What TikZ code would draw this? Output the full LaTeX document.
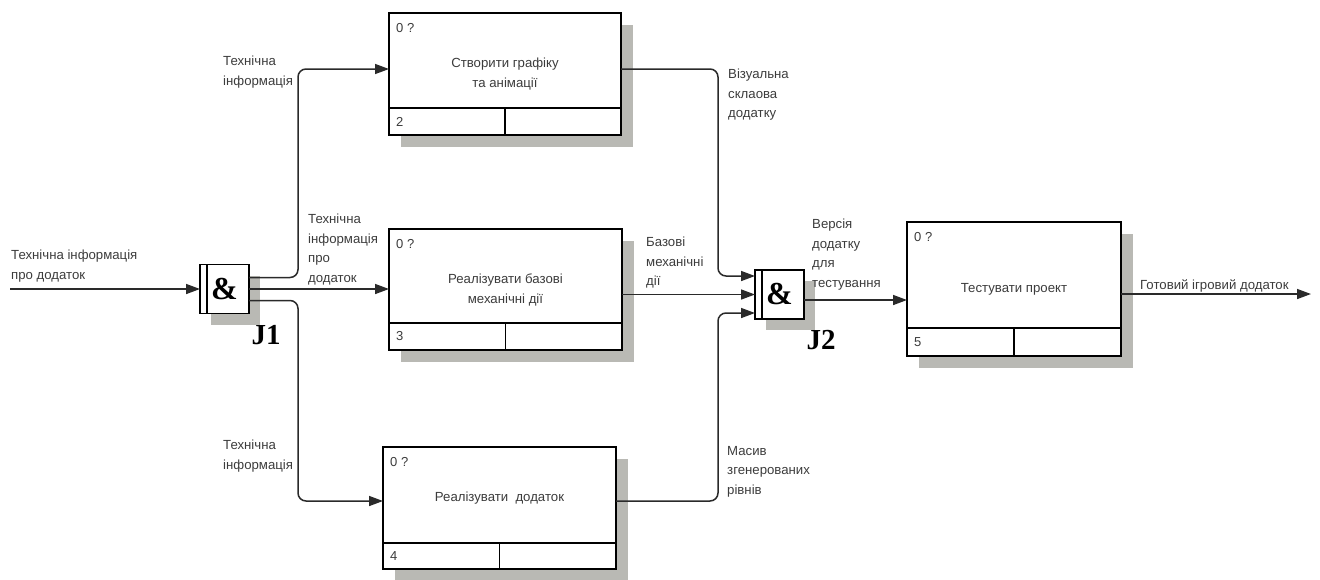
\documentclass[tikz,border=0pt]{standalone}
\usepackage{fontspec}
\setmainfont{Liberation Sans}
\newfontfamily\jfont{Liberation Serif}
\usetikzlibrary{arrows.meta,calc,shadows}

\definecolor{inkgray}{HTML}{3C3C3C}
\definecolor{shadegray}{HTML}{B9B9B4}
\definecolor{wire}{HTML}{2A2A2A}

\tikzset{
  txt/.style={font=\fontsize{13.2}{19.5}\selectfont, text=inkgray, inner sep=0pt, align=left},
  fnbox/.style={draw=black, line width=1.8pt, fill=white, outer sep=0pt, inner sep=0pt,
    align=center, text=inkgray, font=\fontsize{13.2}{20}\selectfont,
    drop shadow={shadow xshift=12pt, shadow yshift=-12pt, fill=shadegray, opacity=1}},
  jbox/.style={draw=black, line width=1.8pt, fill=white, outer sep=0pt, inner sep=0pt,
    minimum width=49pt, minimum height=49pt, font=\jfont\bfseries\fontsize{32}{32}\selectfont,
    drop shadow={shadow xshift=11pt, shadow yshift=-11pt, fill=shadegray, opacity=1}},
  jname/.style={font=\jfont\bfseries\fontsize{29}{29}\selectfont, inner sep=0pt},
  tag/.style={font=\fontsize{13}{15}\selectfont, text=inkgray, inner sep=0pt, anchor=west},
  boxline/.style={draw=black, line width=1.8pt},
  conn/.style={draw=wire, line width=1.5pt, rounded corners=8pt,
    -{Triangle[length=14pt,width=10pt]}},
}

\begin{document}
\begin{tikzpicture}[x=1pt,y=-1pt]
\useasboundingbox (0,0) rectangle (1320,579);

% activity boxes
\node[fnbox, minimum width=232pt, minimum height=122pt] (b2) at (505,74) {Створити графіку\\ та анімації};
\node[fnbox, minimum width=233pt, minimum height=121pt] (b3) at (505.5,289.5) {Реалізувати базові\\ механічні дії};
\node[fnbox, minimum width=233pt, minimum height=122pt] (b4) at (499.5,508) {\raisebox{7pt}[0pt][0pt]{Реалізувати\hspace{0.55em}додаток}};
\node[fnbox, minimum width=214pt, minimum height=134pt] (b5) at (1014,289) {Тестувати проект};

% bottom strips of the boxes
\foreach \b/\h/\n in {b2/27/2, b3/27/3, b4/26/4, b5/28/5}{
  \draw[boxline] ([yshift=\h pt]\b.south west) -- ([yshift=\h pt]\b.south east);
  \draw[boxline] ([yshift=\h pt]\b.south) -- (\b.south);
  \node[tag] at ([xshift=7pt,yshift=-15pt]\b.north west) {0 ?};
  \node[tag] at ([xshift=7pt,yshift=0.5*\h pt]\b.south west) {\n};
}

% junctions
\node[jbox] (J1) at (224.5,289) {\&};
\draw[boxline] ([xshift=7pt]J1.north west) -- ([xshift=7pt]J1.south west);
\node[jname] (J1n) at (266,335) {J1};
\node[jbox] (J2) at (779.5,294.5) {\&};
\draw[boxline] ([xshift=7pt]J2.north west) -- ([xshift=7pt]J2.south west);
\node[jname] (J2n) at (821,340) {J2};

% connector end points
\coordinate (src) at (10,289);
\coordinate (b2in) at ([yshift=5pt]b2.west);
\coordinate (b3in) at (b3.west |- J1.east);
\coordinate (b4in) at ([yshift=7pt]b4.west);
\coordinate (j2a) at ([yshift=18.5pt]J2.west);
\coordinate (j2b) at (J2.west);
\coordinate (j2c) at ([yshift=-18.5pt]J2.west);
\coordinate (b5in) at ([yshift=-11pt]b5.west);
\coordinate (sink) at (1311,294);

% connectors
\draw[conn] (src) -- (J1.west);
\draw[conn] ([yshift=11.5pt]J1.east) -| ([xshift=-91pt]b2in) -- (b2in);
\draw[conn] (J1.east) -- (b3in);
\draw[conn] ([yshift=-11.5pt]J1.east) -| ([xshift=-85pt]b4in) -- (b4in);
\draw[conn] (b2.east |- b2in) -| ([xshift=-37pt]j2a) -- (j2a);
\draw[conn] (b3.east |- j2b) -- (j2b);
\draw[conn] (b4.east |- b4in) -| ([xshift=-37pt]j2c) -- (j2c);
\draw[conn] (J2.east |- b5in) -- (b5in);
\draw[conn] (b5.east |- sink) -- (sink);

% connector labels
\node[txt, anchor=north west] (l1) at (11,250) {Технічна інформація\\про додаток};
\node[txt, anchor=north west] (l2) at (223,56) {Технічна\\інформація};
\node[txt, anchor=north west] (l3) at (308,214) {Технічна\\інформація\\про\\додаток};
\node[txt, anchor=north west] (l4) at (223,440) {Технічна\\інформація};
\node[txt, anchor=north west] (l5) at (728,69) {Візуальна\\склаова\\додатку};
\node[txt, anchor=north west] (l6) at (646,237) {Базові\\механічні\\дії};
\node[txt, anchor=north west] (l7) at (727,446) {Масив\\згенерованих\\рівнів};
\node[txt, anchor=north west] (l8) at (812,219) {Версія\\додатку\\для\\тестування};
\node[txt, anchor=north west] (l9) at (1140,279) {Готовий ігровий додаток};
\end{tikzpicture}
\end{document}
